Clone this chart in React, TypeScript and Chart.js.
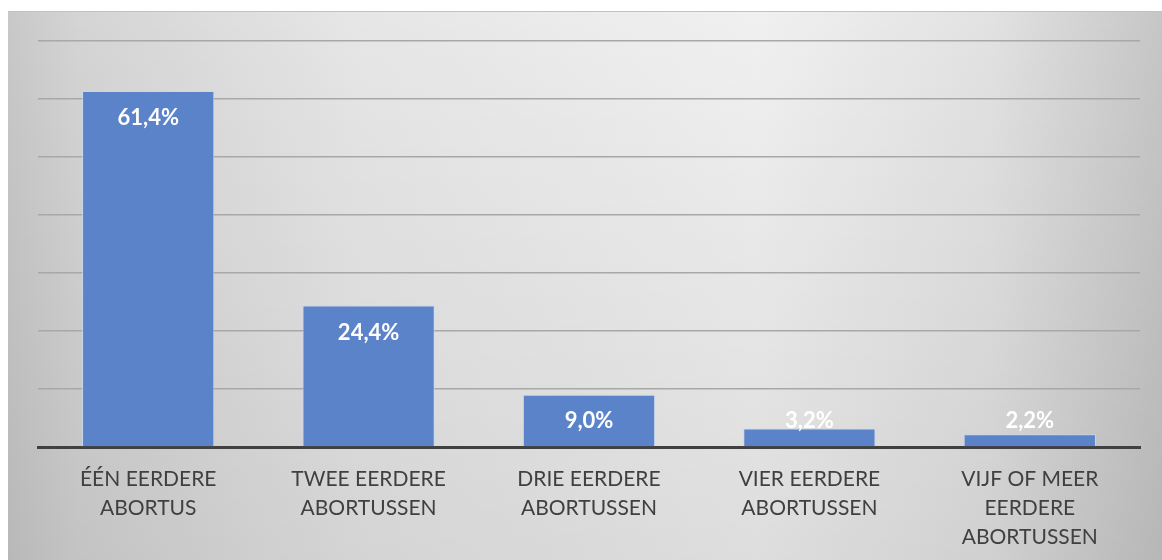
import React, { useEffect, useRef } from "react";
import { Chart, registerables } from "chart.js";

Chart.register(...registerables);

const categories: string[][] = [
  ["ÉÉN EERDERE", "ABORTUS"],
  ["TWEE EERDERE", "ABORTUSSEN"],
  ["DRIE EERDERE", "ABORTUSSEN"],
  ["VIER EERDERE", "ABORTUSSEN"],
  ["VIJF OF MEER", "EERDERE", "ABORTUSSEN"],
];
const values: number[] = [61.4, 24.4, 9.0, 3.2, 2.2];
const valueLabels: string[] = ["61,4%", "24,4%", "9,0%", "3,2%", "2,2%"];

const W = 1162;
const H = 560;

const backgroundPlugin = {
  id: "bgBox",
  beforeDraw(chart: any) {
    const ctx = chart.ctx as CanvasRenderingContext2D;
    const x0 = 8, y0 = 11, x1 = W, y1 = H;
    ctx.save();
    const g = ctx.createLinearGradient(x0, 0, x1, 0);
    g.addColorStop(0, "#c8c8c8");
    g.addColorStop(0.06, "#d4d4d4");
    g.addColorStop(0.3, "#e6e6e6");
    g.addColorStop(0.65, "#f0f0f0");
    g.addColorStop(0.85, "#e2e2e2");
    g.addColorStop(1, "#c6c6c6");
    ctx.fillStyle = g;
    ctx.fillRect(x0, y0, x1 - x0, y1 - y0);
    const v = ctx.createLinearGradient(0, y0, 0, y1);
    v.addColorStop(0, "rgba(0,0,0,0)");
    v.addColorStop(1, "rgba(0,0,0,0.08)");
    ctx.fillStyle = v;
    ctx.fillRect(x0, y0, x1 - x0, y1 - y0);
    ctx.fillStyle = "#c2c2c2";
    ctx.fillRect(x0, y0, x1 - x0, 1);
    ctx.restore();
  },
};

const labelPlugin = {
  id: "barLabels",
  afterDatasetsDraw(chart: any) {
    const ctx = chart.ctx as CanvasRenderingContext2D;
    const meta = chart.getDatasetMeta(0);
    const base = chart.scales.y.getPixelForValue(0);
    ctx.save();
    ctx.font = "bold 22px Lato";
    ctx.fillStyle = "#ffffff";
    ctx.textAlign = "center";
    ctx.textBaseline = "middle";
    meta.data.forEach((bar: any, i: number) => {
      const y = Math.min(bar.y + 27, base - 26);
      ctx.fillText(valueLabels[i], bar.x, y);
    });
    ctx.restore();
  },
};

export default function App() {
  const ref = useRef<HTMLCanvasElement>(null);
  useEffect(() => {
    if (!ref.current) return;
    const chart = new Chart(ref.current, {
      type: "bar",
      data: {
        labels: categories,
        datasets: [
          {
            data: values,
            backgroundColor: "#5b83c9",
            borderColor: "rgba(200,215,240,0.9)",
            borderWidth: 1,
            barPercentage: 0.6,
            categoryPercentage: 1,
          },
        ],
      },
      options: {
        animation: false,
        responsive: false,
        maintainAspectRatio: false,
        layout: { padding: { left: 38, right: 22, top: 41, bottom: 0 } },
        plugins: { legend: { display: false }, tooltip: { enabled: false } },
        scales: {
          x: {
            grid: { display: false, drawTicks: false },
            border: { display: true, color: "#404040", width: 3 },
            ticks: {
              color: "#404040",
              font: { family: "Lato", size: 21, lineHeight: 29 / 21 },
              padding: 18,
              maxRotation: 0,
              autoSkip: false,
            },
            afterFit(scale: any) {
              scale.height = 113;
            },
          },
          y: {
            min: 0,
            max: 70,
            ticks: { display: false, stepSize: 10 },
            grid: { color: "#a8a8a8", lineWidth: 1.5, drawTicks: false },
            border: { display: false },
            afterFit(scale: any) {
              scale.width = 0;
            },
          },
        },
      },
      plugins: [backgroundPlugin, labelPlugin],
    });
    return () => chart.destroy();
  }, []);
  return (
    <div style={{ position: "fixed", left: 0, top: 0, width: W, height: H, background: "#ffffff" }}>
      <canvas ref={ref} width={W} height={H} style={{ width: W, height: H, display: "block" }} />
    </div>
  );
}
